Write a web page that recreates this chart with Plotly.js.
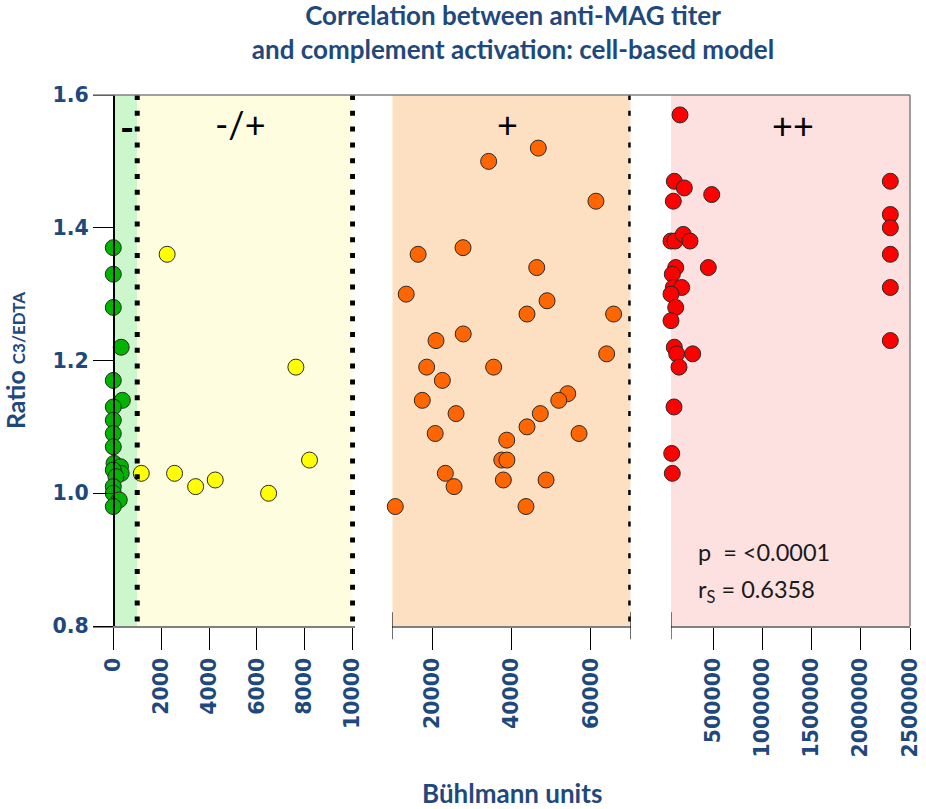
<!DOCTYPE html>
<html>
<head>
<meta charset="utf-8">
<script src="https://cdn.plot.ly/plotly-3.0.1.min.js"></script>
<style>html,body{margin:0;padding:0;background:#fff;}#chart{width:926px;height:809px;}</style>
</head>
<body>
<div id="chart"></div>
<script>
// ---- data ----
var greenX = [0, 0, 0, 330, 0, 380, 0, 0, 0, 0, 30, 300, 330, 0, 110, 0, 0, 250, 0];
var greenY = [1.37, 1.33, 1.28, 1.22, 1.17, 1.14, 1.13, 1.11, 1.09, 1.07, 1.045, 1.04, 1.03, 1.035, 1.025, 1.01, 1.0, 0.99, 0.98];

var yellowX = [2250, 7630, 8200, 1170, 2560, 3440, 4260, 6490];
var yellowY = [1.36, 1.19, 1.05, 1.03, 1.03, 1.01, 1.02, 1.00];

var orangeX = [46750, 34250, 61250, 16500, 27800, 46350, 13500, 48950, 43900, 65700, 27850, 21000, 63950, 18650, 35500, 22600, 17550, 54150, 51900, 26050, 47250, 20800, 43900, 57000, 38800, 37550, 38850, 23350, 25550, 37950, 48700, 10750, 43650];
var orangeY = [1.52, 1.50, 1.44, 1.36, 1.37, 1.34, 1.30, 1.29, 1.27, 1.27, 1.24, 1.23, 1.21, 1.19, 1.19, 1.17, 1.14, 1.15, 1.14, 1.12, 1.12, 1.09, 1.10, 1.09, 1.08, 1.05, 1.05, 1.03, 1.01, 1.02, 1.02, 0.98, 0.98];

var redX = [161500, 103600, 205200, 483800, 93400, 70000, 110700, 195000, 263200, 117800, 449200, 83200, 93400, 178800, 70000, 117800, 70000, 103600, 128000, 290600, 151300, 100500, 77100, 83200, 2300000, 2300000, 2300000, 2300000, 2300000, 2300000];
var redY = [1.57, 1.47, 1.46, 1.45, 1.44, 1.38, 1.38, 1.39, 1.38, 1.34, 1.34, 1.33, 1.31, 1.31, 1.30, 1.28, 1.26, 1.22, 1.21, 1.21, 1.19, 1.13, 1.06, 1.03, 1.47, 1.42, 1.40, 1.36, 1.31, 1.23];

var seg1Ticks = [0, 2000, 4000, 6000, 8000, 10000];
var seg2Ticks = [20000, 40000, 60000];
var seg3Ticks = [500000, 1000000, 1500000, 2000000, 2500000];
var yTicks = [0.8, 1.0, 1.2, 1.4, 1.6];
var yTickText = ['0.8', '1.0', '1.2', '1.4', '1.6'];

var groupLabels = ['-', '-/+', '+', '++'];
var statP = 'p  = <0.0001';
var statR = 'r<sub>S</sub> = 0.6358';

// ---- styles ----
var blue = '#1F497D';
var tickFont = {family: 'DejaVu Sans', size: 20.5, color: blue, weight: 'bold'};
function mk(color) {
  return {size: 16, color: color, line: {color: '#2a2a2a', width: 1}};
}

var traces = [
  {x: greenX, y: greenY, xaxis: 'x', yaxis: 'y', mode: 'markers', type: 'scatter', marker: mk('#00B400'), cliponaxis: false, name: '-'},
  {x: yellowX, y: yellowY, xaxis: 'x', yaxis: 'y', mode: 'markers', type: 'scatter', marker: mk('#FFFF00'), cliponaxis: false, name: '-/+'},
  {x: orangeX, y: orangeY, xaxis: 'x2', yaxis: 'y', mode: 'markers', type: 'scatter', marker: mk('#FF6600'), cliponaxis: false, name: '+'},
  {x: redX, y: redY, xaxis: 'x3', yaxis: 'y', mode: 'markers', type: 'scatter', marker: mk('#FF0000'), cliponaxis: false, name: '++'}
];

function xax(domain, range, ticks) {
  return {
    domain: domain, range: range, anchor: 'y',
    tickmode: 'array', tickvals: ticks, ticktext: ticks.map(String),
    tickangle: -90, ticks: 'outside', ticklen: 22, tickcolor: '#000', tickwidth: 1,
    showline: true, linecolor: '#808080', linewidth: 1.5,
    showgrid: false, zeroline: false, tickfont: tickFont, fixedrange: true
  };
}

var dotDash = '5px,10.8px';
var shapes = [
  // background bands
  {type: 'rect', xref: 'x', yref: 'paper', x0: 0, x1: 1000, y0: 0, y1: 1, fillcolor: '#CCF7CC', line: {width: 0}, layer: 'below'},
  {type: 'rect', xref: 'x', yref: 'paper', x0: 1000, x1: 10000, y0: 0, y1: 1, fillcolor: '#FFFDE0', line: {width: 0}, layer: 'below'},
  {type: 'rect', xref: 'x2', yref: 'paper', x0: 10000, x1: 70000, y0: 0, y1: 1, fillcolor: '#FDE0C2', line: {width: 0}, layer: 'below'},
  {type: 'rect', xref: 'x3', yref: 'paper', x0: 70000, x1: 2500000, y0: 0, y1: 1, fillcolor: '#FDE0E0', line: {width: 0}, layer: 'below'},
  // dotted separators
  {type: 'line', xref: 'x', yref: 'paper', x0: 1000, x1: 1000, y0: 1, y1: 0, line: {color: '#000', width: 5, dash: dotDash}},
  {type: 'line', xref: 'x', yref: 'paper', x0: 10000, x1: 10000, y0: 1, y1: 0, line: {color: '#000', width: 5, dash: dotDash}},
  {type: 'line', xref: 'x2', yref: 'paper', x0: 70000, x1: 70000, y0: 1, y1: 0, line: {color: '#000', width: 5, dash: dotDash}},
  // frame
  {type: 'line', xref: 'paper', yref: 'paper', x0: 0, x1: 1, y0: 1, y1: 1, line: {color: '#808080', width: 1.5}},
  {type: 'line', xref: 'paper', yref: 'paper', x0: 1, x1: 1, y0: 0, y1: 1, line: {color: '#808080', width: 1.5}},
  // axis break markers
  {type: 'line', xref: 'x2', yref: 'paper', x0: 10000, x1: 10000, y0: 0.026, y1: -0.025, line: {color: '#000', width: 1}},
  {type: 'line', xref: 'x2', yref: 'paper', x0: 70000, x1: 70000, y0: 0.026, y1: -0.025, line: {color: '#000', width: 1}},
  {type: 'line', xref: 'x3', yref: 'paper', x0: 70000, x1: 70000, y0: 0.026, y1: -0.025, line: {color: '#000', width: 1}}
];

var labelFont = {family: 'Lato', size: 36, color: '#000'};
var statFont = {family: 'Lato', size: 23.5, color: '#1a1a1a'};
var annotations = [
  {xref: 'x', yref: 'y', x: 560, y: 1.552, text: groupLabels[0], showarrow: false, font: {family: 'Lato', size: 38, color: '#000', weight: 'bold'}, xanchor: 'center', yanchor: 'middle'},
  {xref: 'x', yref: 'y', x: 5330, y: 1.557, text: groupLabels[1], showarrow: false, font: labelFont, xanchor: 'center', yanchor: 'middle'},
  {xref: 'x2', yref: 'y', x: 39100, y: 1.557, text: groupLabels[2], showarrow: false, font: labelFont, xanchor: 'center', yanchor: 'middle'},
  {xref: 'x3', yref: 'y', x: 1310000, y: 1.555, text: groupLabels[3], showarrow: false, font: labelFont, xanchor: 'center', yanchor: 'middle'},
  {xref: 'x3', yref: 'y', x: 328000, y: 0.912, text: statP, showarrow: false, font: statFont, xanchor: 'left', yanchor: 'middle'},
  {xref: 'x3', yref: 'y', x: 328000, y: 0.853, text: statR, showarrow: false, font: statFont, xanchor: 'left', yanchor: 'middle'},
  // y axis title
  {xref: 'paper', yref: 'paper', x: -0.096, y: 0.5, text: 'Ratio <span style="font-size:17px">C3/EDTA</span>', textangle: -90,
   showarrow: false, xanchor: 'center', yanchor: 'middle', font: {family: 'Lato', size: 25, color: blue, weight: 'bold'}},
  // x axis title
  {xref: 'paper', yref: 'paper', x: 0.513, y: -0.3145, text: 'Bühlmann units', showarrow: false, xanchor: 'center', yanchor: 'middle',
   font: {family: 'Lato', size: 26, color: blue, weight: 'bold'}}
];

var layout = {
  width: 926, height: 809,
  margin: {l: 93, r: 16, t: 95, b: 183, pad: 0},
  paper_bgcolor: '#fff', plot_bgcolor: 'rgba(0,0,0,0)',
  showlegend: false,
  title: {
    text: 'Correlation between anti-MAG titer<br>and complement activation: cell-based model',
    x: 0.554, xanchor: 'center', xref: 'container',
    y: 0.9685, yanchor: 'middle', yref: 'container',
    font: {family: 'Lato', size: 26, color: blue, weight: 'bold'}
  },
  xaxis: xax([0, 262 / 817], [-848, 10100], seg1Ticks),
  xaxis2: xax([(392.3 - 93) / 817, (630.7 - 93) / 817], [10000, 70000], seg2Ticks),
  xaxis3: xax([(671 - 93) / 817, 1], [70000, 2500000], seg3Ticks),
  yaxis: {
    range: [0.8, 1.6], anchor: 'free', position: 20 / 817,
    tickmode: 'array', tickvals: yTicks, ticktext: yTickText,
    ticks: 'outside', ticklen: 20, tickcolor: '#000', tickwidth: 1,
    showline: true, linecolor: '#000', linewidth: 1.5,
    showgrid: false, zeroline: false, tickfont: tickFont, fixedrange: true
  },
  shapes: shapes,
  annotations: annotations
};

Plotly.newPlot('chart', traces, layout, {displayModeBar: false, staticPlot: true});
</script>
</body>
</html>
